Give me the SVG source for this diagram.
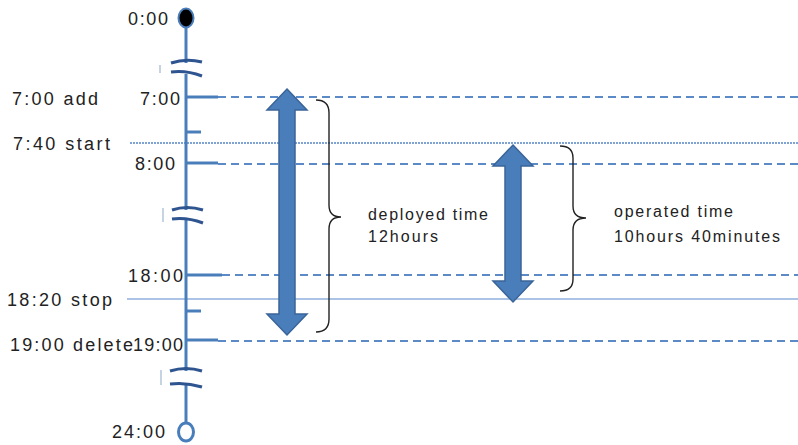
<svg xmlns="http://www.w3.org/2000/svg" width="798" height="445" viewBox="0 0 798 445">
<style>
.lbl{font-family:"Liberation Sans",Arial,sans-serif;font-size:18px;fill:#222}
.note{font-family:"Liberation Sans",Arial,sans-serif;font-size:16px;fill:#222}
.axis{stroke:#4a7ebb;stroke-width:3;fill:none}
.tick{stroke:#4a7ebb;stroke-width:3;fill:none}
.dash{stroke:#5b8ac6;stroke-width:2;stroke-dasharray:8 5;fill:none}
.dot{stroke:#7fa3d4;stroke-width:2;stroke-dasharray:2 1;fill:none}
.solid{stroke:#8fb1de;stroke-width:1.5;fill:none}
.brk{stroke:#2f5590;stroke-width:3;fill:none}
.lt{stroke:#c5d3e3;stroke-width:2}
.arrow{fill:#4a7ebb;stroke:#3a6498;stroke-width:1.5}
.brace{fill:none;stroke:#222;stroke-width:1.4}
</style>
<g id="guides">
<line class="dash" x1="218" y1="97" x2="798" y2="97"/>
<line class="dot" x1="130" y1="143" x2="798" y2="143"/>
<line class="dash" x1="218" y1="164" x2="798" y2="164"/>
<line class="dash" x1="222" y1="275" x2="798" y2="275"/>
<line class="solid" x1="127" y1="299" x2="798" y2="299"/>
<line class="dash" x1="218" y1="341" x2="798" y2="341"/>
</g>
<g id="timeline">
<line class="axis" x1="186" y1="26" x2="186" y2="423"/>
<line class="tick" x1="186" y1="97" x2="218" y2="97"/>
<line class="tick" x1="186" y1="132" x2="201" y2="132"/>
<line class="tick" x1="186" y1="163" x2="218" y2="163"/>
<line class="tick" x1="186" y1="275" x2="222" y2="275"/>
<line class="tick" x1="186" y1="311" x2="201" y2="311"/>
<line class="tick" x1="186" y1="340" x2="218" y2="340"/>
<ellipse cx="186" cy="18" rx="7.5" ry="9.5" fill="#000" stroke="#4a7ebb" stroke-width="2"/>
<ellipse cx="186" cy="432" rx="7.5" ry="9" fill="#fff" stroke="#4a7ebb" stroke-width="3"/>
</g>
<g id="breaks">
<rect x="176" y="63" width="20" height="11" fill="#fff"/>
<path class="brk" d="M171,63 Q186,58 202,62"/>
<path class="brk" d="M171,72 Q186,70 202,76"/>
<line class="lt" x1="160" y1="65" x2="160" y2="73"/>
<rect x="176" y="210" width="20" height="10" fill="#fff"/>
<path class="brk" d="M172,210 Q187,205 203,210"/>
<path class="brk" d="M172,219 Q187,217 203,223"/>
<line class="lt" x1="163" y1="208" x2="163" y2="222"/>
<rect x="176" y="371" width="20" height="14" fill="#fff"/>
<path class="brk" d="M170,371 Q186,366 202,371"/>
<path class="brk" d="M170,384 Q186,382 202,387"/>
<line class="lt" x1="161" y1="370" x2="161" y2="385"/>
</g>
<g id="labels">
<text class="lbl" x="128" y="25" textLength="40" lengthAdjust="spacing">0:00</text>
<text class="lbl" x="12" y="105" textLength="86" lengthAdjust="spacing">7:00 add</text>
<text class="lbl" x="140" y="105" textLength="40" lengthAdjust="spacing">7:00</text>
<text class="lbl" x="13" y="150" textLength="97" lengthAdjust="spacing">7:40 start</text>
<text class="lbl" x="135" y="170" textLength="40" lengthAdjust="spacing">8:00</text>
<text class="lbl" x="128" y="282" textLength="55" lengthAdjust="spacing">18:00</text>
<text class="lbl" x="7" y="306" textLength="105" lengthAdjust="spacing">18:20 stop</text>
<text class="lbl" x="10" y="351" textLength="123" lengthAdjust="spacing">19:00 delete</text>
<text class="lbl" x="133" y="351" textLength="50" lengthAdjust="spacing">19:00</text>
<text class="lbl" x="112" y="438" textLength="53" lengthAdjust="spacing">24:00</text>
</g>
<g id="deployed">
<polygon class="arrow" points="287,89 307,110 295,110 295,314 307,314 287,335 267,314 279,314 279,110 267,110"/>
<path class="brace" d="M316,100 Q329,100 329,113 L329,205 Q329,217 341,217 Q329,217 329,229 L329,319 Q329,332 316,332"/>
<text class="note" x="368" y="220" textLength="120" lengthAdjust="spacing">deployed time</text>
<text class="note" x="368" y="242" textLength="70" lengthAdjust="spacing">12hours</text>
</g>
<g id="operated">
<polygon class="arrow" points="513,145 533,166 521,166 521,281 533,281 513,302 493,281 505,281 505,166 493,166"/>
<path class="brace" d="M560,146 Q573,146 573,158 L573,206 Q573,218 586,218 Q573,218 573,230 L573,279 Q573,291 560,291"/>
<text class="note" x="614" y="217" textLength="119" lengthAdjust="spacing">operated time</text>
<text class="note" x="614" y="242" textLength="166" lengthAdjust="spacing">10hours 40minutes</text>
</g>
</svg>
